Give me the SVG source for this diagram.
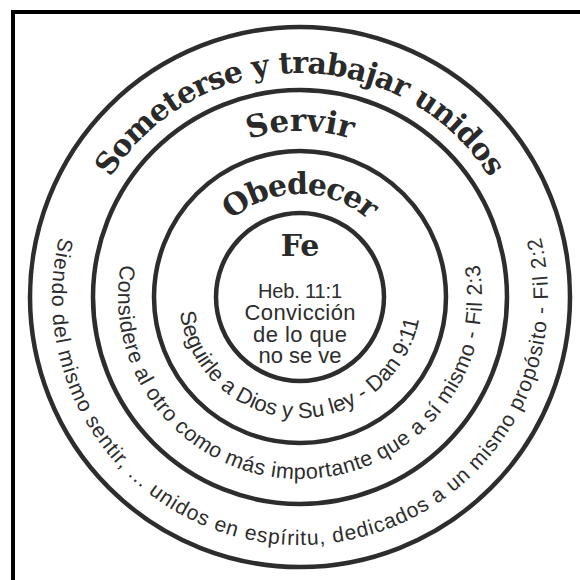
<svg xmlns="http://www.w3.org/2000/svg" xmlns:xlink="http://www.w3.org/1999/xlink" width="580" height="580" viewBox="0 0 580 580">
  <style>
    .ring { fill: none; stroke: #2d2d2d; stroke-width: 4.5; }
    .title { font-family: "DejaVu Serif", "Liberation Serif", serif; font-weight: bold; fill: #2a2a2a; }
    .body { font-family: "Liberation Sans", Arial, sans-serif; fill: #2d2d2d; }
  </style>
  <defs>
    <path id="topOuter" d="M300,521 A224,224 0 1 1 300,73 A224,224 0 1 1 300,521"/>
    <path id="topServir" d="M300,463 A166,166 0 1 1 300,131 A166,166 0 1 1 300,463"/>
    <path id="topObedecer" d="M300,400 A103,103 0 1 1 300,194 A103,103 0 1 1 300,400"/>
    <path id="botInner" d="M300,176 A121,121 0 1 0 300,418 A121,121 0 1 0 300,176"/>
    <path id="botMid" d="M300,115 A182,182 0 1 0 300,479 A182,182 0 1 0 300,115"/>
    <path id="botOuter" d="M300,49 A248,248 0 1 0 300,545 A248,248 0 1 0 300,49"/>
  </defs>
  <rect x="13" y="12" width="620" height="620" fill="none" stroke="#000" stroke-width="4"/>

  <g id="ring-someterse">
    <circle class="ring" cx="300" cy="297" r="270"/>
    <text class="title" font-size="30"><textPath xlink:href="#topOuter" href="#topOuter" startOffset="50%" text-anchor="middle" textLength="452">Someterse y trabajar unidos</textPath></text>
    <text class="body" font-size="21"><textPath xlink:href="#botOuter" href="#botOuter" startOffset="50%" text-anchor="middle" textLength="900">Siendo del mismo sentir, ... unidos en espíritu, dedicados a un mismo propósito - Fil 2:2</textPath></text>
  </g>

  <g id="ring-servir">
    <circle class="ring" cx="300" cy="297" r="207"/>
    <text class="title" font-size="31"><textPath xlink:href="#topServir" href="#topServir" startOffset="50%" text-anchor="middle" textLength="104">Servir</textPath></text>
    <text class="body" font-size="21.5"><textPath xlink:href="#botMid" href="#botMid" startOffset="50%" text-anchor="middle" textLength="637">Considere al otro como más importante que a sí mismo - Fil 2:3</textPath></text>
  </g>

  <g id="ring-obedecer">
    <circle class="ring" cx="300" cy="297" r="146"/>
    <text class="title" font-size="30"><textPath xlink:href="#topObedecer" href="#topObedecer" startOffset="50%" text-anchor="middle" textLength="150">Obedecer</textPath></text>
    <text class="body" font-size="22"><textPath xlink:href="#botInner" href="#botInner" startOffset="49.5%" text-anchor="middle" textLength="342">Seguirle a Dios y Su ley - Dan 9:11</textPath></text>
  </g>

  <g id="ring-fe">
    <circle class="ring" cx="300" cy="297" r="84"/>
    <text class="title" font-size="30" x="300" y="256" text-anchor="middle">Fe</text>
    <text class="body" font-size="20" x="300" y="298" text-anchor="middle" textLength="84">Heb. 11:1</text>
    <text class="body" font-size="22" x="300" y="320" text-anchor="middle" textLength="111">Convicción</text>
    <text class="body" font-size="22" x="300" y="342" text-anchor="middle" textLength="94">de lo que</text>
    <text class="body" font-size="22" x="300" y="363" text-anchor="middle">no se ve</text>
  </g>
</svg>
